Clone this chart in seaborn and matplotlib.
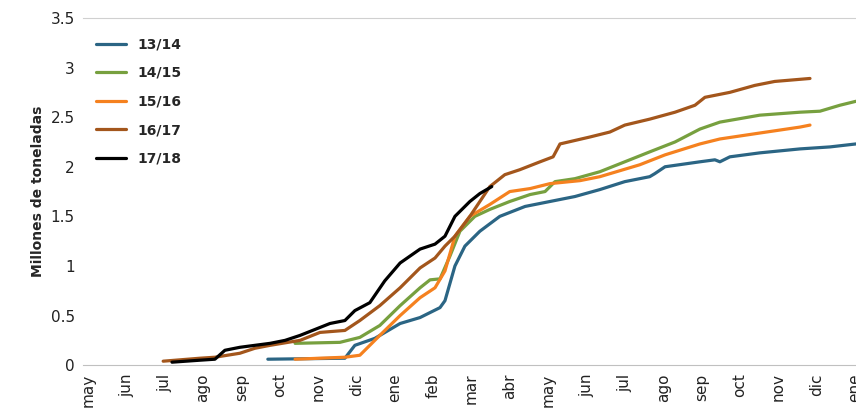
import pandas as pd
import seaborn as sns
import matplotlib.pyplot as plt

MONTHS = ["may", "jun", "jul", "ago", "sep", "oct", "nov", "dic", "ene", "feb", "mar",
          "abr", "may", "jun", "jul", "ago", "sep", "oct", "nov", "dic", "ene"]

# x in month index (0 = may), y in million tonnes
x_1314 = [4.69, 6.70, 6.96, 7.48, 8.14, 8.66, 9.18, 9.31, 9.57, 9.83, 10.22, 10.74, 11.40, 12.05,
          12.70, 13.35, 14.0, 14.65, 14.78, 15.05, 15.96, 16.35, 16.48, 16.74, 17.52, 18.57, 19.35, 20.03]
y_1314 = [0.06, 0.07, 0.20, 0.27, 0.42, 0.48, 0.58, 0.65, 1.0, 1.2, 1.35, 1.5, 1.6, 1.65,
          1.7, 1.77, 1.85, 1.9, 1.93, 2.0, 2.05, 2.07, 2.05, 2.1, 2.14, 2.18, 2.2, 2.23]
x_1415 = [5.40, 6.57, 7.09, 7.61, 8.14, 8.66, 8.92, 9.18, 9.44, 9.70, 10.09, 10.48, 11.0, 11.53,
          11.92, 12.18, 12.70, 13.35, 14.0, 14.65, 15.31, 15.96, 16.48, 17.52, 18.57, 19.09, 19.61, 20.03]
y_1415 = [0.22, 0.23, 0.28, 0.4, 0.6, 0.78, 0.86, 0.87, 1.1, 1.35, 1.5, 1.57, 1.65, 1.72,
          1.75, 1.85, 1.88, 1.95, 2.05, 2.15, 2.25, 2.38, 2.45, 2.52, 2.55, 2.56, 2.62, 2.66]
x_1516 = [5.40, 6.70, 7.09, 7.61, 8.14, 8.66, 9.05, 9.31, 9.57, 9.96, 10.48, 11.0, 11.53, 12.05,
          12.83, 13.35, 14.39, 15.05, 15.96, 16.48, 17.52, 18.57, 18.83]
y_1516 = [0.06, 0.08, 0.10, 0.3, 0.5, 0.68, 0.78, 0.95, 1.3, 1.5, 1.62, 1.75, 1.78, 1.83,
          1.86, 1.9, 2.02, 2.12, 2.23, 2.28, 2.34, 2.4, 2.42]
x_1617 = [1.96, 2.92, 3.31, 3.96, 4.35, 4.75, 5.53, 6.05, 6.70, 7.09, 7.61, 8.14, 8.66, 9.05,
          9.31, 9.57, 9.96, 10.48, 10.87, 11.26, 11.79, 12.13, 12.31, 13.09, 13.61, 14.0, 14.65,
          15.31, 15.83, 16.09, 16.74, 17.39, 17.91, 18.83]
y_1617 = [0.04, 0.07, 0.08, 0.12, 0.17, 0.2, 0.25, 0.33, 0.35, 0.45, 0.6, 0.78, 0.98, 1.08,
          1.2, 1.3, 1.5, 1.8, 1.92, 1.97, 2.05, 2.1, 2.23, 2.3, 2.35, 2.42, 2.48,
          2.55, 2.62, 2.7, 2.75, 2.82, 2.86, 2.89]
x_1718 = [2.19, 2.92, 3.31, 3.57, 3.96, 4.75, 5.14, 5.53, 6.05, 6.31, 6.70, 6.96, 7.35, 7.74,
          8.14, 8.66, 9.05, 9.31, 9.57, 9.96, 10.22, 10.53]
y_1718 = [0.03, 0.05, 0.06, 0.15, 0.18, 0.22, 0.25, 0.3, 0.38, 0.42, 0.45, 0.55, 0.63, 0.85,
          1.03, 1.17, 1.22, 1.3, 1.5, 1.65, 1.73, 1.8]

SERIES = [("13/14", x_1314, y_1314, "#2b6584"), ("14/15", x_1415, y_1415, "#77a03f"),
          ("15/16", x_1516, y_1516, "#f5811f"), ("16/17", x_1617, y_1617, "#a3561c"),
          ("17/18", x_1718, y_1718, "#000000")]

sns.set_style("white")
fig = plt.figure(figsize=(8.56, 4.08), dpi=100)
ax = fig.add_axes([0.097, 0.105, 0.903, 0.851])

for name, xs, ys, color in SERIES:
    df = pd.DataFrame({"x": xs, "y": ys})
    sns.lineplot(data=df, x="x", y="y", ax=ax, color=color, linewidth=2.3, label=name)

ax.set_xlim(-0.13, 20.03)
ax.set_ylim(0, 3.5)
ax.set_xticks(range(len(MONTHS)))
ax.set_xticklabels(MONTHS, rotation=90, fontsize=11, color="#222222")
ax.set_yticks([0, 0.5, 1, 1.5, 2, 2.5, 3, 3.5])
ax.set_yticklabels(["0", "0.5", "1", "1.5", "2", "2.5", "3", "3.5"], fontsize=11, color="#222222")
ax.tick_params(axis="both", length=0, pad=6)
ax.set_xlabel("")
ax.set_ylabel("Millones de toneladas", fontsize=10, fontweight="bold")
for side in ["left", "right"]:
    ax.spines[side].set_visible(False)
ax.spines["top"].set_color("#d0d0d0")
ax.spines["bottom"].set_color("#c0c0c0")

leg = ax.legend(loc="upper left", bbox_to_anchor=(0.0, 0.98), frameon=False,
                handlelength=2.2, labelspacing=1.05, fontsize=10)
for t in leg.get_texts():
    t.set_fontweight("bold")

fig.savefig("out.png", dpi=100)
